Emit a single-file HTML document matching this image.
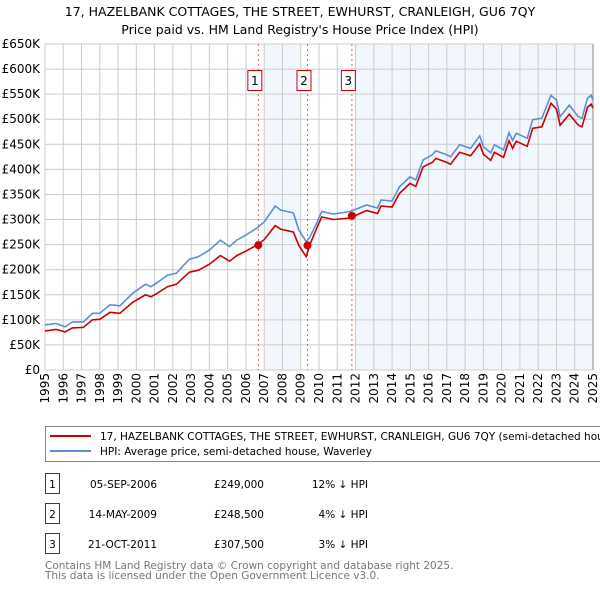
<!DOCTYPE html>
<html><head><meta charset="utf-8"><style>
body{margin:0;background:#fff;font-family:"Liberation Sans","DejaVu Sans",sans-serif;}
svg text{font-family:"DejaVu Sans","Liberation Sans",sans-serif;}
</style></head><body>
<svg id="c" width="600" height="590" xmlns="http://www.w3.org/2000/svg">
<text x="300" y="16" text-anchor="middle" font-size="12.5">17, HAZELBANK COTTAGES, THE STREET, EWHURST, CRANLEIGH, GU6 7QY</text>
<text x="300" y="34" text-anchor="middle" font-size="12.5">Price paid vs. HM Land Registry's House Price Index (HPI)</text>
<g id="plot"></g>
<g>
<rect x="45.5" y="426.5" width="570" height="35" fill="#fff" stroke="#888"/>
<line x1="50" y1="436" x2="91" y2="436" stroke="#cc0000" stroke-width="2"/>
<text x="100" y="440" font-size="10.5">17, HAZELBANK COTTAGES, THE STREET, EWHURST, CRANLEIGH, GU6 7QY (semi-detached house)</text>
<line x1="50" y1="451" x2="91" y2="451" stroke="#5b8fd6" stroke-width="2"/>
<text x="100" y="455" font-size="10.5">HPI: Average price, semi-detached house, Waverley</text>
</g>
<g id="table" font-size="10.5"></g>
<text x="45" y="569" font-size="10.5" fill="#777">Contains HM Land Registry data © Crown copyright and database right 2025.</text>
<text x="45" y="579" font-size="10.5" fill="#777">This data is licensed under the Open Government Licence v3.0.</text>
</svg>
<script>
const years=[1995.0,1995.6,1996.1,1996.5,1997.1,1997.6,1998.0,1998.56,1999.1,1999.8,2000.5,2000.8,2001.1,2001.7,2002.2,2002.9,2003.4,2004.0,2004.6,2005.1,2005.5,2006.0,2006.6,2007.0,2007.6,2007.9,2008.6,2008.9,2009.3,2009.5,2009.9,2010.15,2010.8,2011.7,2012.6,2013.2,2013.4,2014.0,2014.4,2014.98,2015.3,2015.7,2016.2,2016.4,2017.0,2017.2,2017.7,2018.3,2018.8,2019.0,2019.4,2019.6,2020.1,2020.4,2020.6,2020.8,2021.4,2021.7,2022.2,2022.7,2023.0,2023.2,2023.7,2024.2,2024.4,2024.7,2024.9,2025.0];
const hpiValues=[90,93,86,96,96,113,113,130,128,153,171,166,173,189,193,221,226,239,259,246,259,269,283,295,327,319,313,279,256,265,295,316,311,316,329,323,339,337,365,385,379,419,429,437,429,425,449,442,467,445,433,449,439,473,458,472,462,499,502,548,538,505,528,505,502,542,548,538];
const priceValues=[78,81,76,84,85,100,101,115,113,135,150,146,152,166,171,195,199,211,228,217,228,237,249,260,288,281,275,248,226,250,285,305,300,303,318,312,327,325,352,372,366,405,414,422,414,410,434,427,451,430,418,434,424,457,442,456,446,482,485,532,520,488,510,488,485,524,530,522];
const saleYears=[2006.68,2009.37,2011.8];
const salePrices=[249,248.5,307.5];
const saleDates=["05-SEP-2006","14-MAY-2009","21-OCT-2011"];
const salePriceLabels=["£249,000","£248,500","£307,500"];
const saleDiffs=["12% ↓ HPI","4% ↓ HPI","3% ↓ HPI"];
const yTicks=[0,50,100,150,200,250,300,350,400,450,500,550,600,650];
const yTickLabels=["£0","£50K","£100K","£150K","£200K","£250K","£300K","£350K","£400K","£450K","£500K","£550K","£600K","£650K"];
const xTicks=[1995,1996,1997,1998,1999,2000,2001,2002,2003,2004,2005,2006,2007,2008,2009,2010,2011,2012,2013,2014,2015,2016,2017,2018,2019,2020,2021,2022,2023,2024,2025];
const shadeBands=[[2007,2009],[2012,2025]];

const NS="http://www.w3.org/2000/svg";
const L=45,R=593,T=44,B=370;
const X=y=>L+(y-1995)/(2025-1995)*(R-L);
const Y=v=>B-v/650*(B-T);
const plot=document.getElementById('plot');
function mk(tag,attrs,parent){const e=document.createElementNS(NS,tag);for(const k in attrs)e.setAttribute(k,attrs[k]);(parent||plot).appendChild(e);return e;}

shadeBands.forEach(b=>{
  const r=mk('rect',{x:X(b[0]),y:T,width:X(b[1])-X(b[0]),height:B-T,fill:'#eef3fc',opacity:0.75});
  
  
});
yTicks.forEach((t,i)=>{
  const g=mk('line',{x1:L,x2:R,y1:Y(t),y2:Y(t),stroke:'#cccccc','stroke-width':1});
  
  
  const tx=mk('text',{x:40,y:Y(t)+4,'text-anchor':'end','font-size':12});
  tx.textContent=yTickLabels[i];
  
  
});
xTicks.forEach(t=>{
  const g=mk('line',{x1:X(t),x2:X(t),y1:T,y2:B,stroke:'#cccccc','stroke-width':1});
  
  
  const tx=mk('text',{x:0,y:0,'text-anchor':'end','font-size':12,transform:`translate(${X(t)+4},${B+3}) rotate(-90)`});
  tx.textContent=t;
  
  
});
const ax=mk('line',{x1:R,x2:R,y1:T,y2:B,stroke:'#888'});



saleYears.forEach((s,i)=>{
  const l=mk('line',{x1:X(s),x2:X(s),y1:T,y2:B,stroke:'#e06060','stroke-width':1,'stroke-dasharray':'2,3'});
  
  
  const bx=mk('rect',{x:X(s)-10.5,y:70.5,width:14,height:20,fill:'#fff',stroke:'#cc0000'});
  
  
  const tx=mk('text',{x:X(s)-3.5,y:85,'text-anchor':'middle','font-size':12});
  tx.textContent=String(i+1);
  
  
});

function pathFor(vals){return vals.map((v,i)=>(i?'L':'M')+X(years[i]).toFixed(1)+','+Y(v).toFixed(1)).join('');}
const hp=mk('path',{d:pathFor(hpiValues),fill:'none',stroke:'#5b8fd6','stroke-width':1.6});


const pp=mk('path',{d:pathFor(priceValues),fill:'none',stroke:'#cc0000','stroke-width':1.6});


saleYears.forEach((s,i)=>{
  const c=mk('circle',{cx:X(s),cy:Y(salePrices[i]),r:4,fill:'#cc0000'});
  
  
});

const tb=document.getElementById('table');
saleDates.forEach((d,i)=>{
  const y=485+i*30;
  const bx=mk('rect',{x:45.5,y:y-11.5,width:14,height:20,fill:'#fff',stroke:'#cc0000'},tb);
  
  
  const n=mk('text',{x:52.5,y:y+3,'text-anchor':'middle'},tb);
  n.textContent=String(i+1);
  
  
  const dt=mk('text',{x:157,y:y+3,'text-anchor':'end'},tb);
  dt.textContent=d;
  
  
  const pr=mk('text',{x:264,y:y+3,'text-anchor':'end'},tb);
  pr.textContent=salePriceLabels[i];
  
  
  const df=mk('text',{x:368,y:y+3,'text-anchor':'end'},tb);
  df.textContent=saleDiffs[i];
  
  
});
</script>
</body></html>
